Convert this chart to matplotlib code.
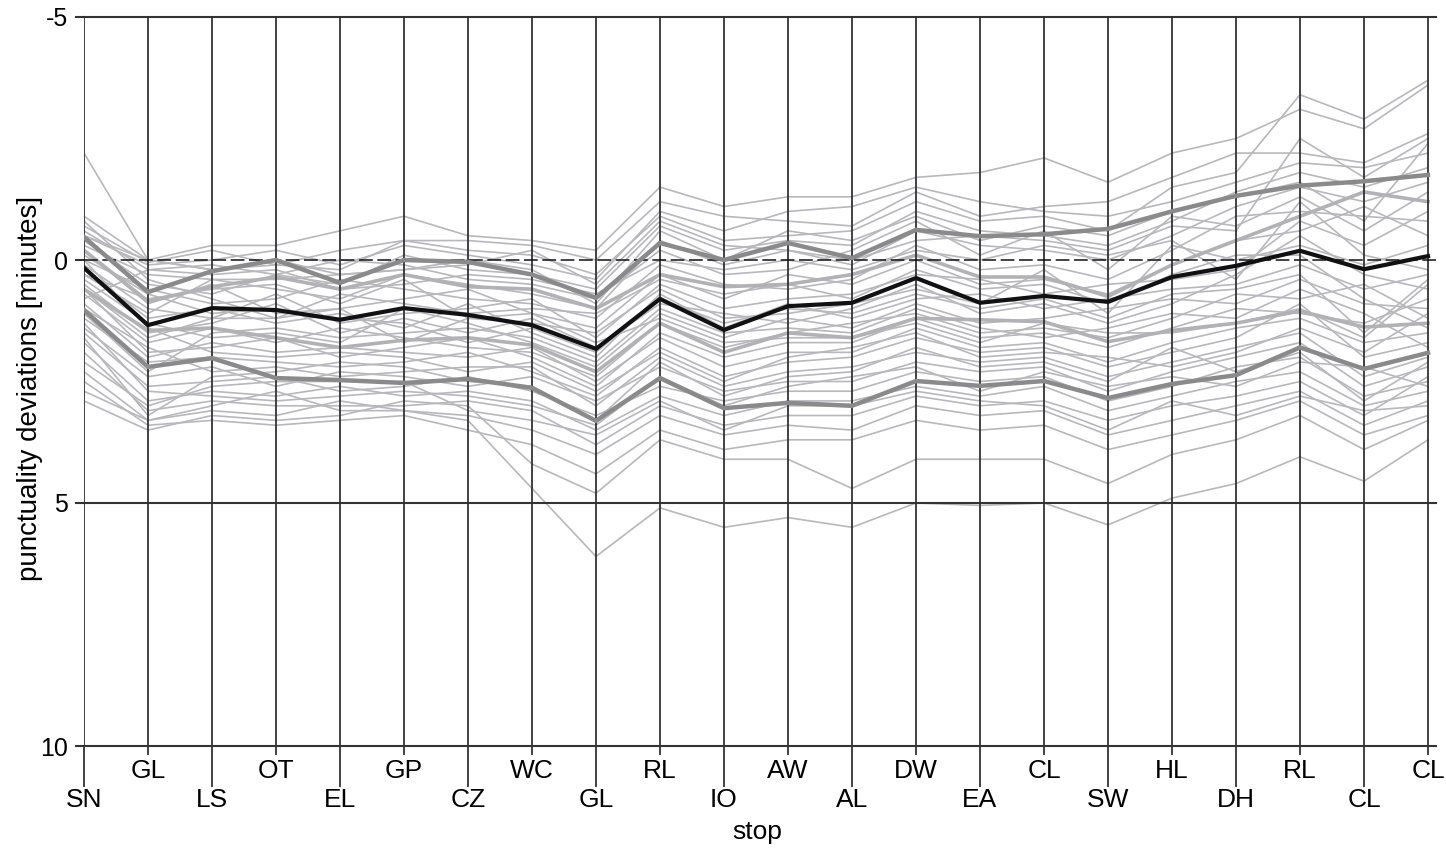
import matplotlib
matplotlib.use('Agg')
import matplotlib.pyplot as plt

plt.rcParams['font.family'] = ['Liberation Sans', 'DejaVu Sans']

stops = ['SN', 'GL', 'LS', 'OT', 'EL', 'GP', 'CZ', 'WC', 'GL', 'RL', 'IO',
         'AW', 'AL', 'DW', 'EA', 'CL', 'SW', 'HL', 'DH', 'RL', 'CL', 'CL']

mean_dev = [0.16, 1.34, 0.99, 1.03, 1.23, 0.99, 1.13, 1.34, 1.83, 0.80, 1.44,
            0.95, 0.88, 0.37, 0.88, 0.74, 0.86, 0.35, 0.12, -0.19, 0.19, -0.08]
upper_dev = [-0.47, 0.66, 0.23, 0.0, 0.47, 0.0, 0.04, 0.30, 0.78, -0.35, 0.0,
             -0.35, -0.04, -0.62, -0.49, -0.53, -0.64, -1.0, -1.32, -1.53, -1.62, -1.75]
lower_dev = [1.03, 2.20, 2.02, 2.43, 2.47, 2.53, 2.45, 2.63, 3.31, 2.43, 3.05,
             2.94, 3.0, 2.49, 2.59, 2.49, 2.84, 2.55, 2.37, 1.80, 2.24, 1.91]
band_hi = [-0.2, 0.85, 0.55, 0.35, 0.6, 0.3, 0.55, 0.6, 1.0, 0.3, 0.55,
           0.5, 0.3, -0.1, 0.35, 0.35, 0.75, 0.1, -0.4, -0.9, -1.4, -1.2]
band_lo = [0.6, 1.45, 1.4, 1.6, 1.8, 1.65, 1.6, 1.75, 2.3, 1.3, 1.9,
           1.5, 1.6, 1.2, 1.23, 1.27, 1.68, 1.45, 1.3, 1.05, 1.38, 1.3]

# individual runs
runs = [
    [-2.2, 0.0, 0.2, 0.1, -0.2, -0.4, -0.2, -0.1, 0.3, -0.9, -0.4, -0.5, -0.6, -1.2, -0.8, -0.9, -0.6, -1.5, -1.8, -3.4, -2.9, -3.7],
    [-0.9, 0.0, -0.3, -0.3, -0.6, -0.9, -0.5, -0.4, -0.2, -1.5, -1.1, -1.3, -1.3, -1.7, -1.8, -2.1, -1.6, -2.2, -2.5, -3.1, -2.7, -3.6],
    [-0.7, 0.05, -0.2, 0.1, 0.2, -0.4, -0.4, -0.3, 0.0, -1.2, -0.9, -0.8, -0.7, -1.4, -0.9, -1.1, -1.2, -1.7, -2.2, -2.2, -2.0, -2.6],
    [-0.5, 0.1, 0.0, -0.2, 0.1, -0.3, -0.1, 0.1, 0.4, -1.0, -0.6, -1.0, -1.1, -1.5, -1.2, -1.0, -0.9, -1.2, -1.6, -2.0, -1.9, -2.2],
    [-0.6, 0.2, 0.1, 0.3, 0.5, -0.1, 0.2, 0.3, 0.6, -0.7, -0.2, -0.4, -0.3, -1.0, -0.6, -0.5, -0.3, -0.8, -1.4, -1.8, -1.5, -1.9],
    [-0.3, 0.3, 0.4, 0.6, 0.8, 0.3, 0.5, 0.7, 1.0, -0.4, 0.1, -0.2, 0.1, -0.6, -0.3, -0.2, 0.0, -0.5, -1.1, -1.5, -1.2, -1.6],
    [-0.4, 0.5, 0.7, 0.3, 0.0, 0.1, 0.4, 0.5, 0.8, -0.2, 0.3, 0.2, -0.2, -0.8, -0.1, -0.6, 0.2, -0.9, -0.7, -1.3, -0.6, -1.4],
    [0.0, 0.6, 0.9, 0.8, 0.4, 0.6, 0.8, 0.9, 1.2, 0.1, 0.5, 0.6, 0.4, -0.3, 0.2, 0.1, 0.4, -0.2, -0.9, -1.0, -0.9, -0.8],
    [-0.2, 0.9, 0.5, 1.1, 1.0, 0.8, 0.6, 1.1, 1.4, 0.3, 0.8, 0.3, 0.5, 0.0, 0.5, 0.4, 0.7, 0.1, -0.4, -0.6, -1.1, -0.5],
    [0.1, 1.0, 1.2, 0.7, 1.3, 1.1, 1.0, 0.8, 1.6, 0.5, 1.0, 0.8, 0.7, 0.3, 0.4, 0.7, 0.5, 0.4, 0.2, -0.8, -0.3, -1.0],
    [0.3, 0.8, 0.6, 0.5, 0.9, 0.4, 1.2, 1.3, 1.5, 0.6, 1.2, 1.1, 0.9, 0.6, 0.9, 0.2, 1.1, -0.3, 0.0, -0.3, 0.1, -0.3],
    [0.2, 1.2, 1.0, 1.3, 1.1, 1.4, 0.9, 1.5, 2.0, 0.7, 1.4, 0.9, 1.2, 0.8, 0.7, 1.0, 0.8, 0.6, 0.5, 0.1, 0.6, 0.3],
    [0.5, 1.5, 1.3, 0.9, 1.5, 1.2, 1.5, 1.2, 1.8, 0.9, 1.1, 1.3, 1.0, 0.5, 1.1, 0.9, 1.3, 0.9, 0.3, -0.5, 0.3, 0.6],
    [0.4, 1.3, 1.6, 1.5, 1.7, 1.0, 1.3, 1.7, 2.2, 1.1, 1.6, 1.2, 1.4, 0.9, 1.3, 1.2, 1.0, 0.8, 0.9, 0.4, 0.9, 1.0],
    [0.7, 1.7, 1.4, 1.7, 1.4, 1.6, 1.8, 1.9, 2.4, 1.3, 1.8, 1.5, 1.3, 1.1, 1.5, 1.4, 1.6, 1.2, 0.7, 0.8, 0.5, 1.2],
    [0.6, 1.9, 1.8, 1.6, 2.0, 1.8, 1.6, 2.0, 2.6, 1.5, 2.0, 1.7, 1.7, 1.2, 1.6, 1.5, 1.8, 1.4, 1.0, 1.1, 1.3, 0.8],
    [0.9, 2.0, 1.7, 1.9, 1.8, 1.9, 2.0, 1.8, 2.5, 1.6, 2.2, 1.9, 1.9, 1.4, 1.8, 1.7, 2.1, 1.7, 1.4, 1.2, 1.7, 1.5],
    [1.2, 2.1, 2.0, 2.1, 2.2, 2.1, 1.9, 2.3, 2.8, 1.8, 2.4, 2.1, 2.0, 1.6, 1.9, 1.8, 2.2, 1.9, 1.6, 0.9, 2.0, 1.7],
    [1.0, 1.8, 2.3, 2.2, 2.4, 2.3, 2.2, 2.2, 3.0, 2.0, 2.6, 2.3, 2.2, 1.9, 2.1, 2.0, 2.4, 2.1, 1.8, 1.5, 2.4, 2.0],
    [1.4, 2.4, 2.2, 2.6, 2.3, 2.4, 2.6, 2.4, 2.9, 2.2, 2.7, 2.5, 2.5, 2.1, 2.3, 2.2, 2.7, 2.3, 2.0, 1.7, 2.6, 2.2],
    [1.5, 2.6, 2.5, 2.4, 2.7, 2.6, 2.4, 2.7, 3.2, 2.6, 2.9, 2.7, 2.7, 2.3, 2.5, 2.4, 2.9, 2.6, 2.2, 2.0, 2.8, 2.5],
    [1.7, 2.9, 2.7, 2.8, 2.6, 2.8, 2.7, 2.9, 3.5, 2.8, 3.2, 2.9, 2.9, 2.6, 2.8, 2.6, 3.1, 2.8, 2.5, 2.3, 3.0, 2.7],
    [1.9, 3.1, 2.9, 3.0, 3.0, 3.0, 2.9, 3.1, 3.8, 3.0, 3.4, 3.2, 3.2, 2.8, 3.0, 2.9, 3.3, 3.0, 2.8, 2.5, 3.2, 2.4],
    [2.3, 3.3, 3.1, 3.2, 2.9, 3.1, 3.2, 3.5, 4.0, 3.2, 3.6, 3.4, 3.5, 3.0, 3.2, 3.1, 3.6, 3.3, 3.0, 2.7, 3.4, 2.9],
    [2.5, 3.4, 3.3, 3.4, 3.3, 3.2, 3.5, 3.8, 4.4, 3.5, 3.9, 3.7, 3.7, 3.3, 3.5, 3.4, 3.9, 3.6, 3.3, 2.9, 3.6, 3.2],
    [2.9, 3.5, 3.2, 3.3, 3.2, 2.9, 3.0, 4.2, 4.8, 3.7, 4.1, 4.1, 4.7, 4.1, 4.1, 4.1, 4.6, 4.0, 3.7, 3.2, 3.9, 3.3],
    [2.7, 3.3, 3.0, 2.7, 3.1, 3.1, 3.3, 4.7, 6.1, 5.1, 5.5, 5.3, 5.5, 5.0, 5.05, 5.0, 5.45, 4.9, 4.6, 4.05, 4.55, 3.7],
    [0.8, 0.2, 0.3, 0.2, 0.6, 0.5, 0.3, 0.4, 0.7, 0.0, 0.2, 0.0, 0.2, -0.2, 0.0, -0.3, -0.1, -0.4, 0.4, -1.2, -0.1, 0.2],
    [-0.8, 0.4, 0.8, 1.2, 0.7, 0.9, 1.1, 1.0, 1.1, 0.4, 0.7, 0.5, 0.8, 0.2, 0.6, 0.5, 0.9, 0.3, -0.1, -0.1, 0.8, 1.4],
    [1.1, 2.3, 1.5, 1.4, 1.6, 1.5, 1.4, 1.6, 2.1, 1.0, 1.5, 1.4, 1.5, 1.0, 1.4, 1.6, 1.4, 1.1, 1.2, 0.6, 1.1, 1.8],
    [1.3, 2.7, 2.8, 2.9, 2.8, 2.7, 2.8, 3.0, 3.4, 2.4, 3.0, 2.6, 2.4, 2.2, 2.7, 2.3, 2.6, 2.4, 2.6, 2.1, 2.2, 2.6],
    [-0.1, 0.7, 1.1, 1.0, 1.2, 1.3, 1.7, 1.4, 1.9, 0.8, 1.3, 1.0, 1.1, 0.7, 1.0, 0.8, 1.2, 0.7, 0.6, 0.3, 1.5, 0.4],
    [0.3, 1.1, 0.4, 0.4, 0.3, 0.2, 0.0, 0.2, 0.9, -0.6, 0.0, -0.6, -0.4, -0.9, -0.4, -0.7, -0.5, -1.0, -1.3, -1.6, -0.8, -2.4],
    [2.1, 3.0, 2.6, 2.5, 2.5, 2.5, 3.1, 3.3, 3.6, 2.9, 3.5, 3.0, 3.0, 2.7, 2.9, 3.0, 3.5, 2.9, 3.2, 2.8, 3.1, 3.0],
    [0.0, 1.4, 1.9, 2.0, 1.9, 2.0, 2.3, 2.1, 2.7, 1.9, 2.5, 2.0, 1.8, 1.5, 2.0, 1.9, 2.0, 2.2, 1.9, 1.4, 1.9, 1.1],
    [-0.5, 0.0, 0.2, 0.0, 0.3, 0.2, 0.1, -0.2, 0.5, -0.8, -0.3, -0.2, 0.0, -0.4, -0.5, -0.4, -0.2, -0.7, -0.6, -2.5, -1.7, -2.5],
    [0.6, 1.6, 1.2, 1.2, 1.0, 1.7, 1.2, 1.1, 1.7, 1.2, 1.7, 1.6, 1.6, 1.3, 1.7, 1.3, 1.5, 1.5, 1.3, 1.0, 1.6, 0.5],
    [1.6, 3.2, 2.4, 2.3, 2.1, 2.2, 2.5, 2.6, 3.3, 2.1, 2.8, 2.4, 2.3, 1.8, 2.2, 2.1, 2.5, 1.8, 2.3, 1.9, 2.9, 2.1],
]

x = list(range(len(stops)))
line_col = '#333333'

fig = plt.figure(figsize=(14.46, 8.48), dpi=100)
ax = fig.add_axes([84 / 1446, 1 - 746 / 848, (1436 - 84) / 1446, (746 - 17) / 848])

for r in runs:
    ax.plot(x, r, color='#b8b8bc', lw=1.2, zorder=2)
ax.plot(x, band_hi, color='#b2b2b6', lw=2.6, zorder=3)
ax.plot(x, band_lo, color='#b2b2b6', lw=2.6, zorder=3)
ax.plot(x, upper_dev, color='#8a8a8a', lw=3.2, zorder=4)
ax.plot(x, lower_dev, color='#8a8a8a', lw=3.2, zorder=4)
ax.plot(x, mean_dev, color='#111111', lw=3, zorder=5)

# stop axes
for xi in x:
    ax.axvline(xi, color=line_col, lw=1.3, zorder=3.5)
for yv in (-5, 5, 10):
    ax.axhline(yv, color=line_col, lw=1.5, zorder=3.5, clip_on=False)
ax.axhline(0, color='#111111', lw=1.1, dashes=(9, 3), zorder=3.5)

ax.set_xlim(0, 21.125)
ax.set_ylim(10, -5)
for s in ax.spines.values():
    s.set_visible(False)

ax.set_yticks([-5, 0, 5, 10])
ax.set_yticklabels(['-5', '0', '5', '10'])
ax.tick_params(axis='y', length=6.5, width=1.5, color=line_col, labelsize=18, pad=5)

# alternating two-row stop labels
ax.set_xticks(x[0::2])
ax.set_xticklabels(stops[0::2])
ax.set_xticks(x[1::2], minor=True)
ax.set_xticklabels(stops[1::2], minor=True)
ax.tick_params(axis='x', which='major', length=29.5, width=1.3, color=line_col,
               labelsize=19, pad=0.5)
ax.tick_params(axis='x', which='minor', length=6.5, width=1.3, color=line_col,
               labelsize=19, pad=2.5)

fig.text(30 / 1446, 1 - 388 / 848, 'punctuality deviations [minutes]', rotation=90,
         ha='center', va='center', fontsize=20)
fig.text(757 / 1446, 1 - 832 / 848, 'stop', ha='center', va='center', fontsize=19)

fig.savefig('out.png', dpi=100)
